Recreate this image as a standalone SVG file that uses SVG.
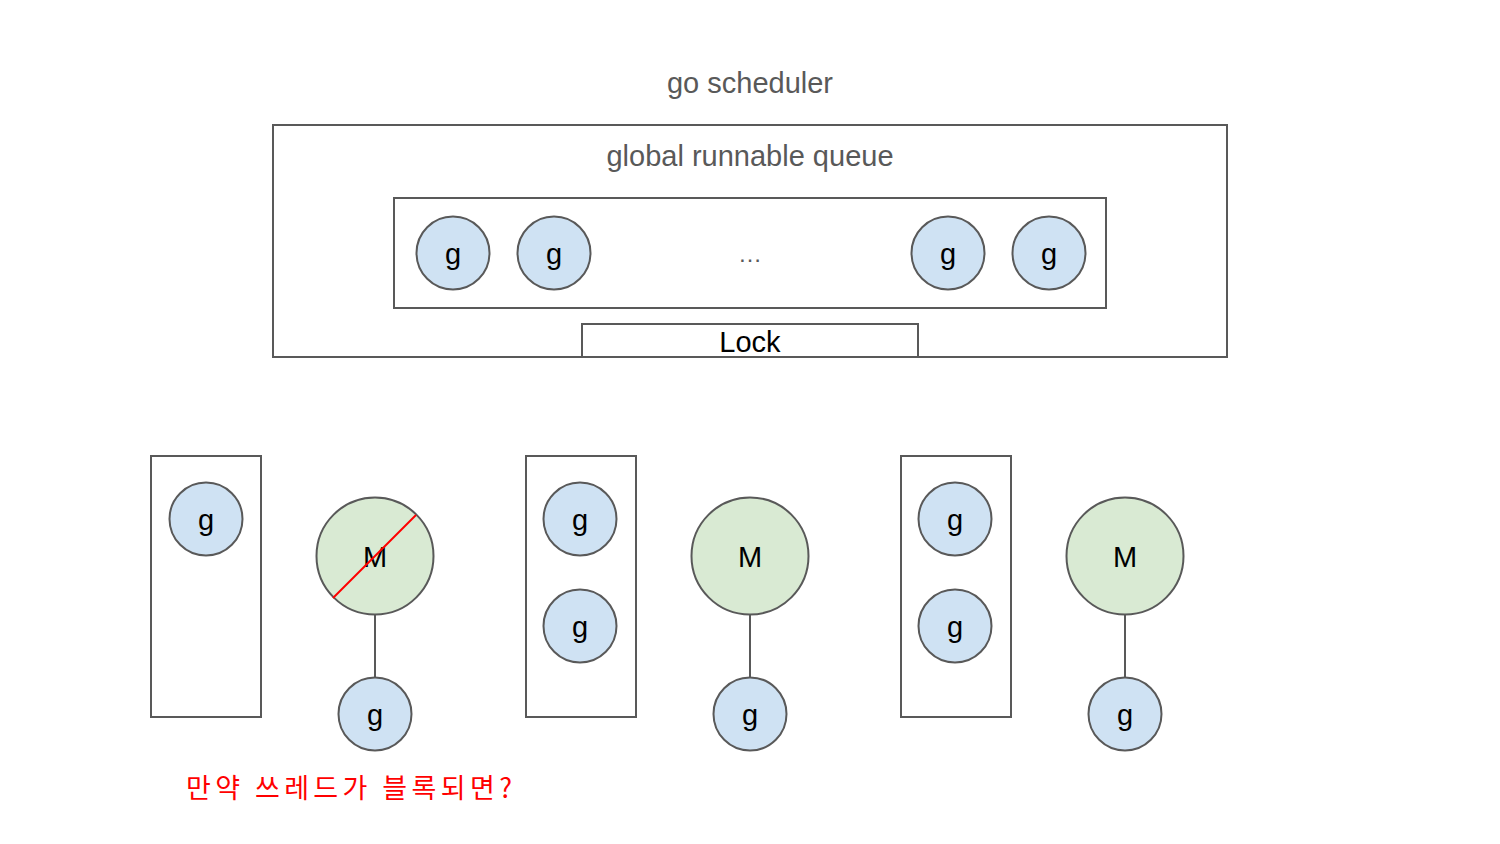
<svg xmlns="http://www.w3.org/2000/svg" width="1500" height="844" viewBox="0 0 1500 844">
<style>
.box{fill:#ffffff;stroke:#595959;stroke-width:2}
.g{fill:#cfe2f3;stroke:#595959;stroke-width:2}
.m{fill:#d9ead3;stroke:#595959;stroke-width:2}
.lbl{font-family:Arial,"Liberation Sans",sans-serif;font-size:29px;fill:#000000;text-anchor:middle}
.title{font-family:Arial,"Liberation Sans",sans-serif;font-size:29px;fill:#595959;text-anchor:middle}
.conn{stroke:#595959;stroke-width:2;fill:none}
</style>
<rect width="1500" height="844" fill="#ffffff"/>
<text class="title" x="750" y="93">go scheduler</text>
<g id="scheduler">
<rect class="box" x="273" y="125" width="954" height="232"/>
<text class="title" x="750" y="166">global runnable queue</text>
</g>
<g id="queue">
<rect class="box" x="394" y="198" width="712" height="110"/>
<text class="title" x="750" y="262" style="font-size:24px">…</text>
</g>
<g id="q-g1"><circle class="g" cx="453" cy="253" r="36.5"/><text class="lbl" x="453" y="264">g</text></g>
<g id="q-g2"><circle class="g" cx="554" cy="253" r="36.5"/><text class="lbl" x="554" y="264">g</text></g>
<g id="q-g3"><circle class="g" cx="948" cy="253" r="36.5"/><text class="lbl" x="948" y="264">g</text></g>
<g id="q-g4"><circle class="g" cx="1049" cy="253" r="36.5"/><text class="lbl" x="1049" y="264">g</text></g>
<g id="lock">
<rect class="box" x="582" y="324" width="336" height="33"/>
<text class="lbl" x="750" y="352">Lock</text>
</g>
<g id="connectors">
<line class="conn" x1="375" y1="615" x2="375" y2="677"/>
<line class="conn" x1="750" y1="615" x2="750" y2="677"/>
<line class="conn" x1="1125" y1="615" x2="1125" y2="677"/>
</g>
<g id="p1"><rect class="box" x="151" y="456" width="110" height="261"/></g>
<g id="p1-g1"><circle class="g" cx="206" cy="519" r="36.5"/><text class="lbl" x="206" y="530">g</text></g>
<g id="m1">
<circle class="m" cx="375" cy="556" r="58.5"/>
<text class="lbl" x="375" y="567">M</text>
<line x1="333" y1="598" x2="416" y2="515" stroke="#ff0000" stroke-width="2"/>
</g>
<g id="m1-g"><circle class="g" cx="375" cy="714" r="36.5"/><text class="lbl" x="375" y="725">g</text></g>
<g id="p2"><rect class="box" x="526" y="456" width="110" height="261"/></g>
<g id="p2-g1"><circle class="g" cx="580" cy="519" r="36.5"/><text class="lbl" x="580" y="530">g</text></g>
<g id="p2-g2"><circle class="g" cx="580" cy="626" r="36.5"/><text class="lbl" x="580" y="637">g</text></g>
<g id="m2"><circle class="m" cx="750" cy="556" r="58.5"/><text class="lbl" x="750" y="567">M</text></g>
<g id="m2-g"><circle class="g" cx="750" cy="714" r="36.5"/><text class="lbl" x="750" y="725">g</text></g>
<g id="p3"><rect class="box" x="901" y="456" width="110" height="261"/></g>
<g id="p3-g1"><circle class="g" cx="955" cy="519" r="36.5"/><text class="lbl" x="955" y="530">g</text></g>
<g id="p3-g2"><circle class="g" cx="955" cy="626" r="36.5"/><text class="lbl" x="955" y="637">g</text></g>
<g id="m3"><circle class="m" cx="1125" cy="556" r="58.5"/><text class="lbl" x="1125" y="567">M</text></g>
<g id="m3-g"><circle class="g" cx="1125" cy="714" r="36.5"/><text class="lbl" x="1125" y="725">g</text></g>
<text x="186" y="798" font-family="'Noto Sans CJK KR',sans-serif" font-size="27" fill="#ff0000" textLength="326" lengthAdjust="spacing">만약 쓰레드가 블록되면?</text>
</svg>
